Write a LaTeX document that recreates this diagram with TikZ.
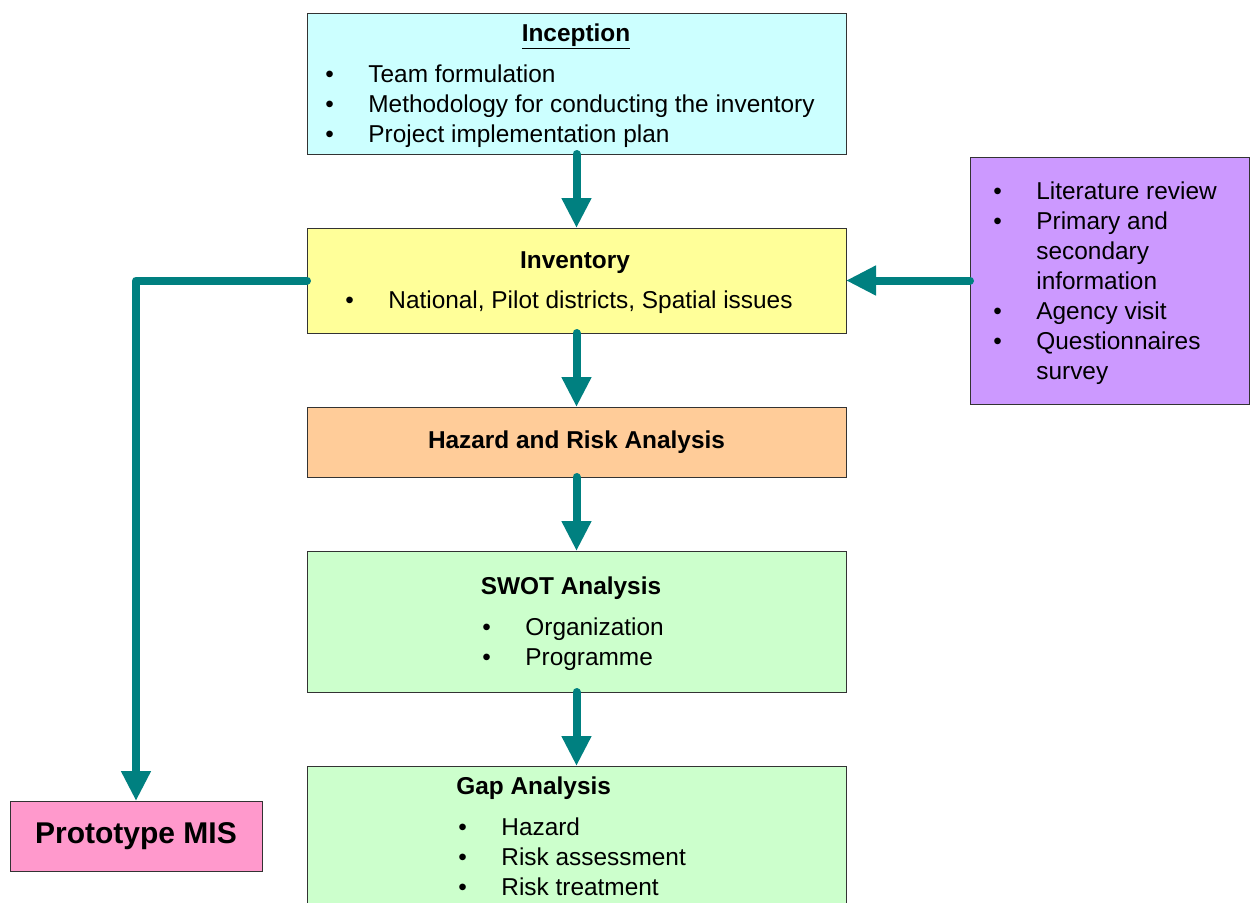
\documentclass[tikz,border=0pt]{standalone}
\usepackage{fontspec}
\setmainfont{Liberation Sans}
\usetikzlibrary{arrows.meta,positioning}
\definecolor{flowc}{RGB}{0,128,128}
\definecolor{incepc}{RGB}{204,255,255}
\definecolor{inventc}{RGB}{255,255,153}
\definecolor{hazardc}{RGB}{255,204,153}
\definecolor{greenc}{RGB}{204,255,204}
\definecolor{purplec}{RGB}{204,153,255}
\definecolor{pinkc}{RGB}{255,153,204}
\newcommand{\bul}{\makebox[21.5pt][l]{\textbullet}}
\newcommand{\nobul}{\hspace*{21.5pt}}

\begin{document}
\begin{tikzpicture}[x=0.5pt, y=-0.5pt,
  every node/.style={font=\fontsize{12.2}{15}\selectfont},
  box/.style={draw=black!80, line width=0.5pt, inner sep=0, outer sep=0, anchor=north west, minimum width=269.5pt},
  txt/.style={inner sep=0, anchor=base west, align=left},
  ttl/.style={inner sep=0, anchor=base, font=\fontsize{12.2}{15}\selectfont\bfseries},
  flow/.style={draw=flowc, line width=4pt, line cap=round, line join=round, -{Triangle[width=14pt,length=15pt]}}]
\useasboundingbox (0,0) rectangle (1250,902);
\fill[white] (0,0) rectangle (1250,902);

% boxes
\node[box, fill=incepc, minimum height=70.5pt] (incep) at (307,13) {};
\node[box, fill=inventc, minimum height=52.5pt] (invent) at (307,228) {};
\node[box, fill=hazardc, minimum height=35pt, font=\fontsize{12.2}{15}\selectfont\bfseries] (hazard) at (307,407) {Hazard and Risk Analysis};
\node[box, fill=greenc, minimum height=70.5pt] (swot) at (307,551) {};
\node[box, fill=greenc, minimum height=75pt] (gap) at (307,766) {};
\node[box, fill=purplec, minimum width=139.5pt, minimum height=123.5pt] (lit) at (970,157) {};
\node[box, fill=pinkc, minimum width=126pt, minimum height=35pt, font=\fontsize{15}{18}\selectfont\bfseries] (proto) at (10,801) {Prototype MIS};

% texts (lists sit on their last line)
\node[ttl] (incepT) at (576,41) {\underline{Inception}};
\node[txt] (incepL) at (325,142) {\bul Team formulation\\\bul Methodology for conducting the inventory\\\bul Project implementation plan};
\node[ttl] (inventT) at (575,268) {Inventory};
\node[txt] (inventL) at (345,308) {\bul National, Pilot districts, Spatial issues};
\node[ttl] (swotT) at (571,594) {SWOT Analysis};
\node[txt] (swotL) at (482,665) {\bul Organization\\\bul Programme};
\node[ttl, anchor=base west] (gapT) at (456,794) {Gap Analysis};
\node[txt] (gapL) at (458,895) {\bul Hazard\\\bul Risk assessment\\\bul Risk treatment};
\node[txt] (litL) at (993,379) {\bul Literature review\\\bul Primary and\\\nobul secondary\\\nobul information\\\bul Agency visit\\\bul Questionnaires\\\nobul survey};

% connectors
\draw[flow] (incep.south) -- (invent.north);
\draw[flow] (invent.south) -- (hazard.north);
\draw[flow] (hazard.south) -- (swot.north);
\draw[flow] (swot.south) -- (gap.north);
\draw[flow] (lit.west) -- (invent.east);
\draw[flow] (invent.west) -| (proto.north);
\end{tikzpicture}
\end{document}
